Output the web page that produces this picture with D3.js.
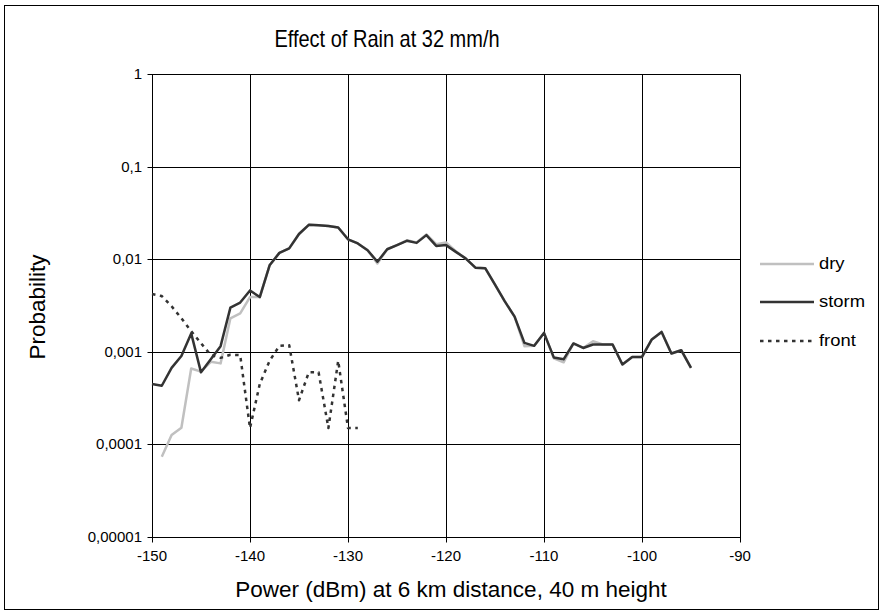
<!DOCTYPE html>
<html><head><meta charset="utf-8">
<script src="https://cdn.jsdelivr.net/npm/d3@7"></script>
<style>body{margin:0;background:#fff}svg{display:block}text{font-family:Arial,"Liberation Sans",sans-serif;fill:#000}</style>
</head><body><svg id="c" width="882" height="613"></svg>
<script>
const title = "Effect of Rain at 32 mm/h";
const xLabel = "Power (dBm) at 6 km distance, 40 m height";
const yLabel = "Probability";
const xTicks = [-150,-140,-130,-120,-110,-100,-90];
const yTicks = [1,0.1,0.01,0.001,0.0001,0.00001];
const yTickLabels = ["1","0,1","0,01","0,001","0,0001","0,00001"];
const seriesNames = ["dry","storm","front"];

const stormX = d3.range(-150,-94,1);
const stormY = [0.00045,0.00043,0.00067,0.0009,0.00158,0.0006,0.00083,0.00115,0.0030,0.0034,
 0.0046,0.0039,0.0086,0.0117,0.0131,0.0187,0.0235,0.0232,0.0228,0.0220,
 0.0164,0.0148,0.0125,0.0094,0.0128,0.0142,0.0158,0.0150,0.0182,0.0139,
 0.0142,0.0120,0.0102,0.0081,0.0080,0.0053,0.0035,0.0024,0.00125,0.00116,
 0.0016,0.00087,0.00083,0.00123,0.0011,0.0012,0.0012,0.0012,0.00073,0.00088,
 0.00088,0.00136,0.00164,0.00096,0.00104,0.00067];

const dryX = d3.range(-149,-94,1);
const dryY = [0.0000735,0.000126,0.000151,0.00066,0.00061,0.00078,0.00075,0.0023,0.0026,
 0.0039,0.0039,0.0086,0.0117,0.0131,0.0187,0.0235,0.0232,0.0228,0.0220,
 0.0164,0.0148,0.0125,0.0090,0.0128,0.0142,0.0160,0.0152,0.0185,0.0145,
 0.0152,0.0122,0.0102,0.0081,0.0080,0.0053,0.0035,0.0024,0.00115,0.00116,
 0.0016,0.00085,0.00077,0.00123,0.0011,0.0013,0.0012,0.0012,0.00073,0.00088,
 0.00088,0.00136,0.00164,0.00096,0.00104,0.00067];

const frontX = d3.range(-150,-128,1);
const frontY = [0.0042,0.0040,0.0031,0.0023,0.00167,0.00124,0.00092,0.00086,0.00093,0.00092,
 0.00015,0.00045,0.00080,0.00116,0.00118,0.00030,0.00060,0.00060,0.00015,0.00080,
 0.00015,0.00015];

const svg = d3.select("#c");
svg.append("rect").attr("x",4.5).attr("y",5.5).attr("width",874).attr("height",604)
  .attr("fill","#fff").attr("stroke","#000").attr("stroke-width",1);

const x = d3.scaleLinear().domain([-150,-90]).range([152,740]);
const y = d3.scaleLog().domain([1e-5,1]).range([537,74]);
const px = v => Math.round(x(v))+0.5;
const py = v => Math.round(y(v))+0.5;

const g = svg.append("g");
xTicks.forEach(t=>{
  g.append("line").attr("x1",px(t)).attr("x2",px(t)).attr("y1",py(1)).attr("y2",py(1e-5)+5)
   .attr("stroke","#000").attr("stroke-width",1);
});
yTicks.forEach(t=>{
  g.append("line").attr("x1",px(-150)-5).attr("x2",px(-90)).attr("y1",py(t)).attr("y2",py(t))
   .attr("stroke","#000").attr("stroke-width",1);
});
xTicks.forEach(t=>{
  g.append("text").attr("x",x(t)).attr("y",y(1e-5)+24).attr("text-anchor","middle")
   .attr("font-size",15).text(t);
});
yTicks.forEach((t,i)=>{
  g.append("text").attr("x",142).attr("y",y(t)+5).attr("text-anchor","end")
   .attr("font-size",15).text(yTickLabels[i]);
});

const line = d3.line().x(d=>x(d[0])).y(d=>y(d[1]));
const dryData = dryX.map((v,i)=>[v,dryY[i]]);
const stormData = stormX.map((v,i)=>[v,stormY[i]]);
const frontData = frontX.map((v,i)=>[v,frontY[i]]);
const styles = {
  dry:{stroke:"#c0c0c0",dash:null},
  storm:{stroke:"#333333",dash:null},
  front:{stroke:"#333333",dash:"3.5,4.5"}
};
[["dry",dryData],["storm",stormData],["front",frontData]].forEach(([n,d])=>{
  g.append("path").datum(d).attr("d",line).attr("fill","none")
   .attr("stroke",styles[n].stroke).attr("stroke-width",2.5)
   .attr("stroke-linejoin","round")
   .attr("stroke-dasharray",styles[n].dash);
});

const legY = [264,302,341];
seriesNames.forEach((n,i)=>{
  svg.append("line").attr("x1",760).attr("x2",814).attr("y1",legY[i]).attr("y2",legY[i])
   .attr("stroke",styles[n].stroke).attr("stroke-width",2.5)
   .attr("stroke-dasharray",styles[n].dash);
  svg.append("text").attr("transform",`translate(819,${legY[i]+5}) scale(1.15,1)`)
   .attr("font-size",16).text(n);
});

svg.append("text").attr("transform","translate(387,47) scale(1,1.2)").attr("text-anchor","middle")
  .attr("font-size",20).text(title);
svg.append("text").attr("x",451).attr("y",597).attr("text-anchor","middle").attr("font-size",22.5).text(xLabel);
svg.append("text").attr("transform","translate(45,307) rotate(-90)").attr("text-anchor","middle")
  .attr("font-size",22.5).text(yLabel);
</script></body></html>
